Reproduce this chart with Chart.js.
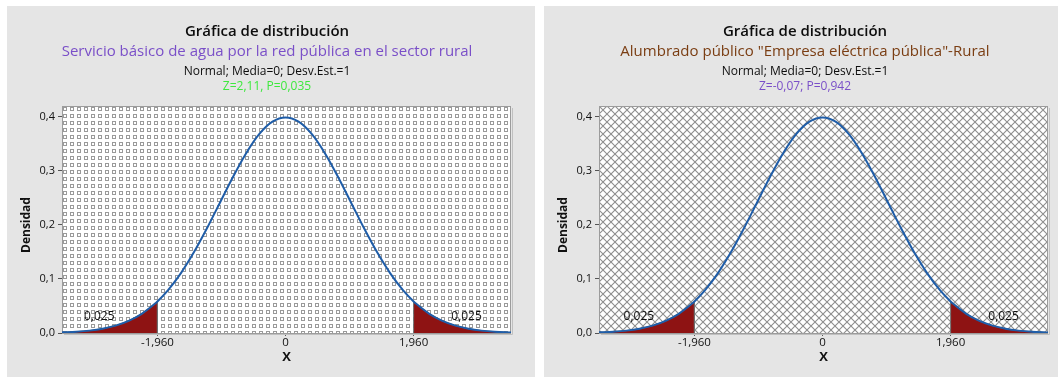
<!DOCTYPE html>
<html>
<head>
<meta charset="utf-8">
<script src="https://cdn.jsdelivr.net/npm/chart.js@4.4.1/dist/chart.umd.min.js"></script>
<style>
  html, body { margin: 0; padding: 0; background: #ffffff; width: 1058px; height: 377px; overflow: hidden; }
  .panel { position: absolute; top: 6px; height: 371px; background: #e5e5e5; }
  #p1 { left: 7px; width: 528px; }
  #p2 { left: 544px; width: 514px; }
  canvas { display: block; }
</style>
</head>
<body>
<div class="panel" id="p1"><canvas id="c1"></canvas></div>
<div class="panel" id="p2"><canvas id="c2"></canvas></div>
<script>
// Standard normal density, sampled along X
const curveX = [-3.42, -3.2, -3.0, -2.8, -2.6, -2.4, -2.2, -2.0, -1.96, -1.8, -1.6, -1.4, -1.2, -1.0, -0.8, -0.6, -0.4, -0.2, 0,
                0.2, 0.4, 0.6, 0.8, 1.0, 1.2, 1.4, 1.6, 1.8, 1.96, 2.0, 2.2, 2.4, 2.6, 2.8, 3.0, 3.2, 3.45];
const curveDensity = [0.0012, 0.0024, 0.0044, 0.0079, 0.0136, 0.0224, 0.0355, 0.0540, 0.0584, 0.0790, 0.1109, 0.1497, 0.1942, 0.2420, 0.2897, 0.3332, 0.3683, 0.3910, 0.3989,
                      0.3910, 0.3683, 0.3332, 0.2897, 0.2420, 0.1942, 0.1497, 0.1109, 0.0790, 0.0584, 0.0540, 0.0355, 0.0224, 0.0136, 0.0079, 0.0044, 0.0024, 0.0010];

// Critical value bounding the shaded tails and the probability in each tail
const criticalZ = 1.96;
const tailAreaLabel = '0,025';

// Axis ticks
const xTickValues = [-1.96, 0, 1.96];
const xTickLabels = ['-1,960', '0', '1,960'];
const yTickValues = [0, 0.1, 0.2, 0.3, 0.4];
const yTickLabels = ['0,0', '0,1', '0,2', '0,3', '0,4'];

// Header lines of each graph
const headerTitle = 'Gráfica de distribución';
const headerDist = 'Normal; Media=0; Desv.Est.=1';
const waterSubtitle = 'Servicio básico de agua por la red pública en el sector rural';
const waterStat = 'Z=2,11, P=0,035';
const lightSubtitle = 'Alumbrado público "Empresa eléctrica pública"-Rural';
const lightStat = 'Z=-0,07; P=0,942';

const FONT = "'Open Sans', 'Noto Sans', sans-serif";

function squarePattern() {
  const t = document.createElement('canvas');
  t.width = 7; t.height = 7;
  const g = t.getContext('2d');
  g.fillStyle = '#ffffff'; g.fillRect(0, 0, 7, 7);
  g.strokeStyle = '#9a9a9a'; g.lineWidth = 1;
  g.strokeRect(1.5, 1.5, 3, 3);
  return t;
}

function crossPattern() {
  const t = document.createElement('canvas');
  t.width = 8; t.height = 8;
  const g = t.getContext('2d');
  g.fillStyle = '#ffffff'; g.fillRect(0, 0, 8, 8);
  g.strokeStyle = '#8e8e8e'; g.lineWidth = 1.1;
  g.beginPath();
  g.moveTo(0, 0); g.lineTo(8, 8);
  g.moveTo(8, 0); g.lineTo(0, 8);
  g.stroke();
  return t;
}

function points(filterFn) {
  const out = [];
  curveX.forEach((x, i) => { if (filterFn(x)) out.push({ x: x, y: curveDensity[i] }); });
  return out;
}

function makeChart(canvasId, cfg) {
  const fullCurve = points(() => true);
  const leftTail = points(x => x <= -criticalZ);
  leftTail.push({ x: -criticalZ, y: 0 });
  const rightTail = [{ x: criticalZ, y: 0 }].concat(points(x => x >= criticalZ));

  const plotBackground = {
    id: 'plotBackground',
    beforeDatasetsDraw(chart) {
      const { ctx, chartArea: a } = chart;
      ctx.save();
      const pat = ctx.createPattern(cfg.tile, 'repeat');
      ctx.translate(a.left, a.top);
      ctx.fillStyle = pat;
      ctx.fillRect(0, 0, a.right - a.left, a.bottom - a.top);
      ctx.restore();
      ctx.save();
      ctx.strokeStyle = '#c0c0c0';
      ctx.lineWidth = 1;
      ctx.beginPath();
      ctx.moveTo(a.right + 1.5, a.top + 2);
      ctx.lineTo(a.right + 1.5, a.bottom + 1.5);
      ctx.lineTo(a.left + 2, a.bottom + 1.5);
      ctx.stroke();
      ctx.strokeStyle = '#9c9c9c';
      ctx.strokeRect(a.left + 0.5, a.top + 0.5, a.right - a.left - 1, a.bottom - a.top);
      ctx.restore();
    }
  };

  const header = {
    id: 'header',
    afterDraw(chart) {
      const { ctx, scales } = chart;
      ctx.save();
      ctx.textAlign = 'center';
      ctx.textBaseline = 'middle';
      const cx = cfg.headerX;
      ctx.fillStyle = '#0d0d0d';
      ctx.font = '600 15px ' + FONT;
      ctx.fillText(headerTitle, cx, 26);
      ctx.fillStyle = cfg.subtitleColor;
      ctx.font = '15px ' + FONT;
      ctx.fillText(cfg.subtitle, cx, 46);
      ctx.fillStyle = '#0d0d0d';
      ctx.font = '12px ' + FONT;
      ctx.fillText(headerDist, cx, 66);
      ctx.fillStyle = cfg.statColor;
      ctx.fillText(cfg.stat, cx, 81);

      // tail probability labels
      ctx.fillStyle = '#111111';
      ctx.font = '12px ' + FONT;
      const ly = scales.y.getPixelForValue(0.03);
      ctx.fillText(tailAreaLabel, scales.x.getPixelForValue(cfg.leftLabelX), ly);
      ctx.fillText(tailAreaLabel, scales.x.getPixelForValue(cfg.rightLabelX), ly);

      // vertical axis title
      ctx.font = 'bold 12px ' + FONT;
      ctx.translate(20, 219);
      ctx.rotate(-Math.PI / 2);
      ctx.fillText('Densidad', 0, 0);
      ctx.restore();
    }
  };

  return new Chart(document.getElementById(canvasId), {
    type: 'line',
    data: {
      datasets: [
        { data: fullCurve, borderColor: '#1f5da8', borderWidth: 2, pointRadius: 0, fill: false,
          cubicInterpolationMode: 'monotone', order: 0 },
        { data: leftTail, borderColor: '#707070', borderWidth: 1, backgroundColor: '#8e1313',
          pointRadius: 0, fill: 'origin', tension: 0, order: 1 },
        { data: rightTail, borderColor: '#707070', borderWidth: 1, backgroundColor: '#8e1313',
          pointRadius: 0, fill: 'origin', tension: 0, order: 1 }
      ]
    },
    options: {
      responsive: true,
      maintainAspectRatio: false,
      animation: false,
      layout: { padding: { top: 100, right: cfg.rightPad, left: 0, bottom: 0 } },
      plugins: { legend: { display: false }, tooltip: { enabled: false } },
      scales: {
        x: {
          type: 'linear', min: -3.42, max: 3.45,
          afterBuildTicks(scale) { scale.ticks = xTickValues.map(v => ({ value: v })); },
          afterFit(scale) { scale.height = 44; },
          ticks: { autoSkip: false, maxRotation: 0, padding: 0, color: '#111111',
                   font: { family: FONT, size: 11.5 },
                   callback: (v, i) => xTickLabels[i] },
          grid: { display: true, drawOnChartArea: false, tickLength: 3, tickColor: '#555555' },
          border: { display: false },
          title: { display: true, text: 'X', color: '#111111', padding: { bottom: 12 },
                   font: { family: FONT, size: 13, weight: 'bold' } }
        },
        y: {
          type: 'linear', min: 0, max: 0.42,
          afterBuildTicks(scale) { scale.ticks = yTickValues.map(v => ({ value: v })); },
          afterFit(scale) { scale.width = 55; },
          ticks: { autoSkip: false, padding: 3, color: '#111111',
                   font: { family: FONT, size: 11 },
                   callback: (v, i) => yTickLabels[i] },
          grid: { display: true, drawOnChartArea: false, tickLength: 4, tickColor: '#555555' },
          border: { display: false },
          title: { display: false }
        }
      }
    },
    plugins: [plotBackground, header]
  });
}

makeChart('c1', {
  tile: squarePattern(), headerX: 260, rightPad: 24,
  subtitle: waterSubtitle, subtitleColor: '#7a4fc8',
  stat: waterStat, statColor: '#3ee83e',
  leftLabelX: -2.85, rightLabelX: 2.77
});

makeChart('c2', {
  tile: crossPattern(), headerX: 261, rightPad: 10,
  subtitle: lightSubtitle, subtitleColor: '#7a3d12',
  stat: lightStat, statColor: '#7a4fc8',
  leftLabelX: -2.81, rightLabelX: 2.77
});
</script>
</body>
</html>
